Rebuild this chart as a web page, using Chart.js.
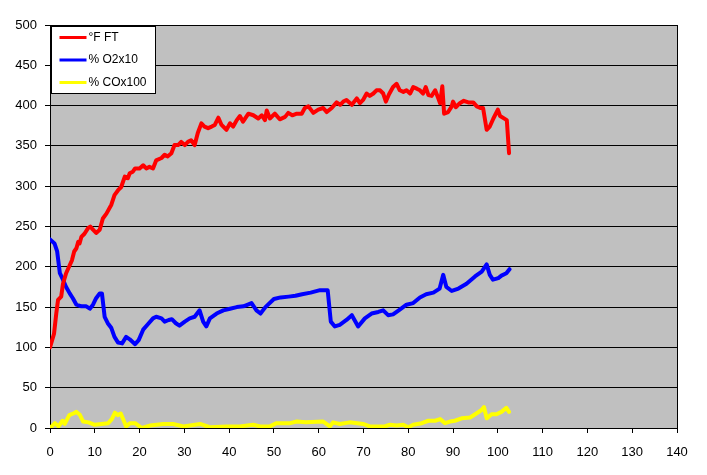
<!DOCTYPE html>
<html>
<head>
<meta charset="utf-8">
<script src="https://cdn.jsdelivr.net/npm/chart.js@4/dist/chart.umd.min.js"></script>
<style>
html, body { margin: 0; padding: 0; background: #fff; }
#wrap { width: 707px; height: 475px; }
</style>
</head>
<body>
<div id="wrap"><canvas id="chart" width="707" height="475"></canvas></div>
<script>
// series labels
const seriesLabels = ['°F FT', '% O2x10', '% COx100'];
const seriesColors = ['#FF0000', '#0000FF', '#FFFF00'];

// °F FT
const redX = [0, 0.9, 1.4, 1.8, 2.5, 2.9, 3.6, 4.4, 4.9, 5.4, 5.9, 6.3, 6.6, 7.0, 7.7, 8.5, 9.0, 9.6, 10.3, 11.1,
  11.8, 12.6, 13.7, 14.4, 15.2, 15.9, 16.7, 17.4, 17.8, 18.5, 19.0, 20.0, 20.8, 21.5, 22.2, 23.0, 23.7, 24.9, 25.6, 26.3,
  27.1, 27.8, 28.6, 29.3, 30.1, 30.8, 31.5, 32.3, 33.0, 33.8, 34.5, 35.3, 36.1, 36.8, 37.6, 38.3, 39.4, 40.2, 40.9, 41.7,
  42.4, 43.1, 44.3, 45.4, 46.5, 47.3, 48.0, 48.4, 49.1, 50.2, 51.3, 52.5, 53.2, 54.1, 55.1, 56.2, 56.9, 57.7, 58.8, 59.9,
  61.0, 61.8, 62.9, 64.0, 64.8, 65.5, 66.2, 67.4, 68.5, 69.2, 69.9, 70.7, 71.4, 72.2, 72.9, 73.7, 74.4, 75.0, 75.7, 76.6,
  77.4, 78.1, 78.9, 79.6, 80.4, 81.1, 81.9, 82.6, 83.3, 83.9, 84.5, 85.2, 86.0, 86.7, 87.1, 87.6, 88.0, 88.9, 89.7, 90.0,
  90.6, 91.5, 92.4, 93.4, 94.5, 95.3, 96.1, 96.7, 97.5, 98.2, 99.0, 100.0, 100.5, 102.0, 102.5];
const redY = [100, 117, 142, 159, 163, 179, 192, 202, 208, 219, 223, 231, 229, 237, 241, 248, 250, 246, 242, 246,
  260, 266, 277, 289, 295, 299, 312, 310, 316, 318, 322, 322, 326, 322, 324, 322, 332, 335, 339, 337,
  341, 351, 351, 355, 351, 355, 357, 351, 366, 378, 374, 372, 374, 376, 385, 376, 370, 378, 374, 382,
  387, 380, 390, 388, 384, 388, 382, 394, 384, 390, 383, 386, 391, 388, 390, 390, 397, 399, 391, 395,
  397, 392, 397, 404, 401, 405, 407, 401, 409, 403, 407, 415, 412, 415, 419, 419, 415, 405, 414, 423,
  427, 419, 417, 419, 415, 423, 421, 419, 415, 423, 413, 412, 419, 409, 403, 424, 390, 392, 399, 405,
  398, 403, 406, 404, 404, 399, 397, 397, 370, 374, 384, 395, 387, 382, 341];

// % O2x10
const blueX = [0, 1.0, 1.6, 2.2, 2.9, 3.6, 4.4, 5.1, 5.9, 7.0, 8.1, 8.9, 9.6, 10.3, 11.1, 11.6, 12.2, 12.9, 13.7, 14.4,
  15.2, 16.1, 17.0, 17.8, 19.0, 19.8, 20.8, 21.9, 23.0, 23.7, 24.9, 25.6, 26.5, 27.2, 28.1, 28.9, 30.1, 31.2, 32.3, 33.4,
  34.2, 34.9, 35.7, 37.2, 38.7, 40.2, 41.7, 43.2, 45.0, 46.1, 47.0, 48.1, 50.0, 51.5, 53.3, 54.8, 56.3, 58.2, 60.3, 62.0,
  62.7, 63.6, 64.7, 66.2, 67.4, 68.8, 70.3, 71.8, 73.3, 74.4, 75.5, 76.6, 78.1, 79.6, 81.1, 82.6, 84.0, 85.6, 87.0, 87.8,
  88.5, 89.7, 91.2, 93.0, 94.9, 96.4, 97.5, 98.2, 98.9, 100.1, 100.8, 101.9, 102.6];
const blueY = [234, 229, 219, 192, 184, 175, 167, 161, 153, 151, 151, 148, 153, 161, 167, 167, 138, 130, 124, 113,
  106, 105, 113, 110, 104, 109, 122, 129, 136, 138, 136, 132, 134, 135, 130, 127, 132, 136, 138, 146,
  132, 126, 136, 142, 146, 148, 150, 151, 155, 146, 142, 150, 160, 162, 163, 164, 166, 168, 171, 171,
  132, 126, 128, 134, 140, 126, 136, 142, 144, 146, 140, 141, 147, 153, 155, 162, 166, 168, 173, 190,
  175, 170, 173, 179, 188, 194, 203, 190, 184, 186, 189, 192, 197];

// % COx100
const yellowX = [0, 1.1, 1.9, 2.8, 3.3, 4.3, 5.2, 5.9, 6.7, 7.4, 8.6, 10.0, 11.5, 13.0, 13.8, 14.5, 15.1, 15.8, 17.0, 17.9,
  19.0, 20.5, 22.3, 25.3, 27.5, 29.8, 33.5, 35.7, 39.4, 42.4, 45.4, 46.9, 49.1, 50.6, 53.6, 55.1, 57.1, 61.0, 62.5, 63.2,
  64.7, 66.9, 69.9, 71.4, 74.7, 75.9, 77.4, 78.9, 80.0, 81.1, 83.0, 84.5, 86.0, 87.1, 88.2, 89.3, 90.4, 91.9, 93.8, 95.2,
  96.3, 96.9, 97.5, 98.6, 99.7, 100.8, 101.9, 102.5];
const yellowY = [0, 6, 2, 9, 5, 16, 18, 20, 16, 8, 7, 4, 5, 6, 11, 19, 16, 18, 2, 6,
  6, 0, 3, 5, 5, 2, 5, 1, 2, 2, 4, 2, 2, 6, 6, 8, 7, 8, 2, 7,
  5, 7, 5, 2, 2, 4, 3, 4, 1, 4, 6, 9, 9, 11, 6, 8, 9, 12, 13, 18,
  22, 26, 12, 17, 17, 20, 25, 20];

// axis ranges
const xMin = 0, xMax = 140, xStep = 10;
const yMin = 0, yMax = 500, yStep = 50;

function toPoints(xs, ys) {
    return xs.map((x, i) => ({ x: x, y: ys[i] }));
}

const fontFamily = '"Liberation Sans", Arial, sans-serif';

// gray plot area + right frame line
const plotBackground = {
    id: 'plotBackground',
    beforeDraw(chart) {
        const { ctx, chartArea: a } = chart;
        ctx.save();
        ctx.fillStyle = '#C0C0C0';
        ctx.fillRect(a.left, a.top, a.right - a.left, a.bottom - a.top);
        ctx.strokeStyle = '#000';
        ctx.lineWidth = 1;
        ctx.beginPath();
        ctx.moveTo(Math.round(a.right) + 0.5, a.top);
        ctx.lineTo(Math.round(a.right) + 0.5, a.bottom);
        ctx.stroke();
        ctx.restore();
    }
};

// legend box inside the plot, top left
const boxLegend = {
    id: 'boxLegend',
    afterDraw(chart) {
        const { ctx, chartArea: a } = chart;
        const x = Math.round(a.left) + 1.5, y = Math.round(a.top) + 1.5;
        ctx.save();
        ctx.fillStyle = '#fff';
        ctx.fillRect(x, y, 104, 67);
        ctx.strokeStyle = '#000';
        ctx.lineWidth = 1;
        ctx.strokeRect(x, y, 104, 67);
        ctx.font = '12px ' + fontFamily;
        ctx.textBaseline = 'middle';
        chart.data.datasets.forEach((ds, i) => {
            const rowY = y + 11 + i * 22.5;
            ctx.strokeStyle = ds.borderColor;
            ctx.lineWidth = 3;
            ctx.beginPath();
            ctx.moveTo(x + 8, rowY);
            ctx.lineTo(x + 35, rowY);
            ctx.stroke();
            ctx.fillStyle = '#000';
            ctx.fillText(ds.label, x + 37, rowY);
        });
        ctx.restore();
    }
};

const datasets = [
    { label: seriesLabels[0], data: toPoints(redX, redY), borderColor: seriesColors[0] },
    { label: seriesLabels[1], data: toPoints(blueX, blueY), borderColor: seriesColors[1] },
    { label: seriesLabels[2], data: toPoints(yellowX, yellowY), borderColor: seriesColors[2] }
].map(d => Object.assign(d, {
    borderWidth: 4,
    pointRadius: 0,
    tension: 0,
    fill: false,
    borderJoinStyle: 'round',
    borderCapStyle: 'round'
}));

const chart = new Chart(document.getElementById('chart'), {
    type: 'line',
    data: { datasets: datasets },
    options: {
        responsive: false,
        animation: false,
        layout: { padding: { top: 25, right: 30, left: 0, bottom: 0 } },
        plugins: {
            legend: { display: false },
            tooltip: { enabled: false }
        },
        scales: {
            x: {
                type: 'linear',
                min: xMin,
                max: xMax,
                ticks: {
                    stepSize: xStep,
                    color: '#000',
                    padding: 12,
                    maxRotation: 0,
                    font: { family: fontFamily, size: 13 }
                },
                grid: { drawOnChartArea: false, drawTicks: true, tickLength: 5, color: '#000' },
                border: { color: '#000', width: 1 },
                afterFit(scale) { scale.height = 47; }
            },
            y: {
                min: yMin,
                max: yMax,
                ticks: {
                    stepSize: yStep,
                    color: '#000',
                    padding: 8,
                    font: { family: fontFamily, size: 13 }
                },
                grid: { color: '#000', tickLength: 5, lineWidth: 1 },
                border: { color: '#000', width: 1 },
                afterFit(scale) { scale.width = 50; }
            }
        }
    },
    plugins: [plotBackground, boxLegend]
});
</script>
</body>
</html>
